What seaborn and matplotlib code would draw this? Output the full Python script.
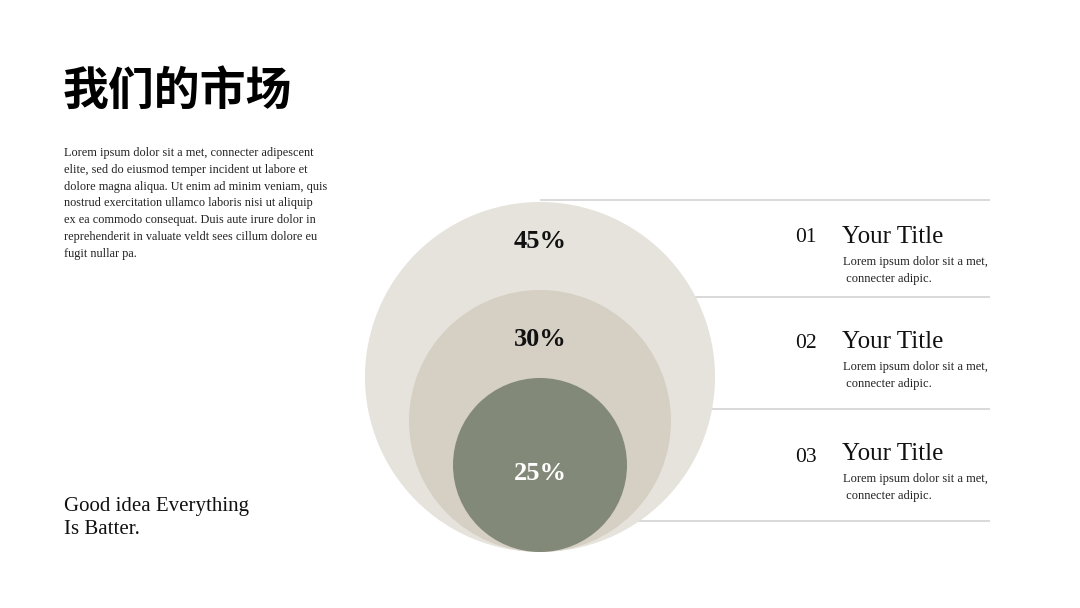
import matplotlib
matplotlib.use("Agg")
import matplotlib.pyplot as plt
from matplotlib.patches import Circle
import seaborn as sns

# ---- data ----
share_labels = ["45%", "30%", "25%"]
share_values = [45, 30, 25]
item_numbers = ["01", "02", "03"]
item_titles = ["Your Title", "Your Title", "Your Title"]
item_text = ["Lorem ipsum dolor sit a met,", " connecter adipic."]
title = "我们的市场"
body_lines = ["Lorem ipsum dolor sit a met, connecter adipescent",
              "elite, sed do eiusmod temper incident ut labore et",
              "dolore magna aliqua. Ut enim ad minim veniam, quis",
              "nostrud exercitation ullamco laboris nisi ut aliquip",
              "ex ea commodo consequat. Duis aute irure dolor in",
              "reprehenderit in valuate veldt sees cillum dolore eu",
              "fugit nullar pa."]
slogan_lines = ["Good idea Everything", "Is Batter."]

sns.set_theme(style="white")
plt.rcParams['font.family'] = ['Liberation Serif', 'Noto Sans CJK SC', 'DejaVu Sans']

fig = plt.figure(figsize=(10.8, 6.08), dpi=100)
ax = fig.add_axes([0, 0, 1, 1])
ax.set_xlim(0, 1080)
ax.set_ylim(608, 0)
ax.set_axis_off()

# separator lines (behind circles)
line_y = [200, 297, 409, 521]
ax.hlines(line_y, 540, 990, color="#d3d3d3", lw=1.2, zorder=1)

# nested circles, bottom aligned
circle_colors = ["#e6e2dc", "#d6d0c4", "#838978"]
radii = [175, 131, 87]
bottom = 552
label_y = [242, 339, 474]
label_colors = ["#111111", "#111111", "#ffffff"]
for lab, r, c, ly, lc in zip(share_labels, radii, circle_colors, label_y, label_colors):
    ax.add_patch(Circle((540, bottom - r), r, facecolor=c, edgecolor="none", zorder=2))
    ax.text(540, ly, lab, ha="center", va="center", fontsize=19, fontweight="bold",
            color=lc, zorder=3)

# right side items
num_y = [237, 344, 458]
title_y = [237, 342, 454]
for n, t, ny, ty in zip(item_numbers, item_titles, num_y, title_y):
    ax.text(795, ny, n, ha="left", va="center", fontsize=15.5, color="#111111")
    ax.text(842, ty, t, ha="left", va="center", fontsize=18, color="#111111")
    for k, line in enumerate(item_text):
        ax.text(843, ty + 25 + 17 * k, line, ha="left", va="center", fontsize=9,
                color="#222222")

# left texts
ax.text(63, 92, title, ha="left", va="center", fontsize=33, fontweight="black",
        family=['Noto Sans CJK SC'], color="#000000")
for k, line in enumerate(body_lines):
    ax.text(64, 153 + 16.8 * k, line, ha="left", va="center", fontsize=8.8, color="#222222")
for k, line in enumerate(slogan_lines):
    ax.text(64, 506 + 23 * k, line, ha="left", va="center", fontsize=15, color="#111111")

fig.savefig("out.png", dpi=100, facecolor="white")
